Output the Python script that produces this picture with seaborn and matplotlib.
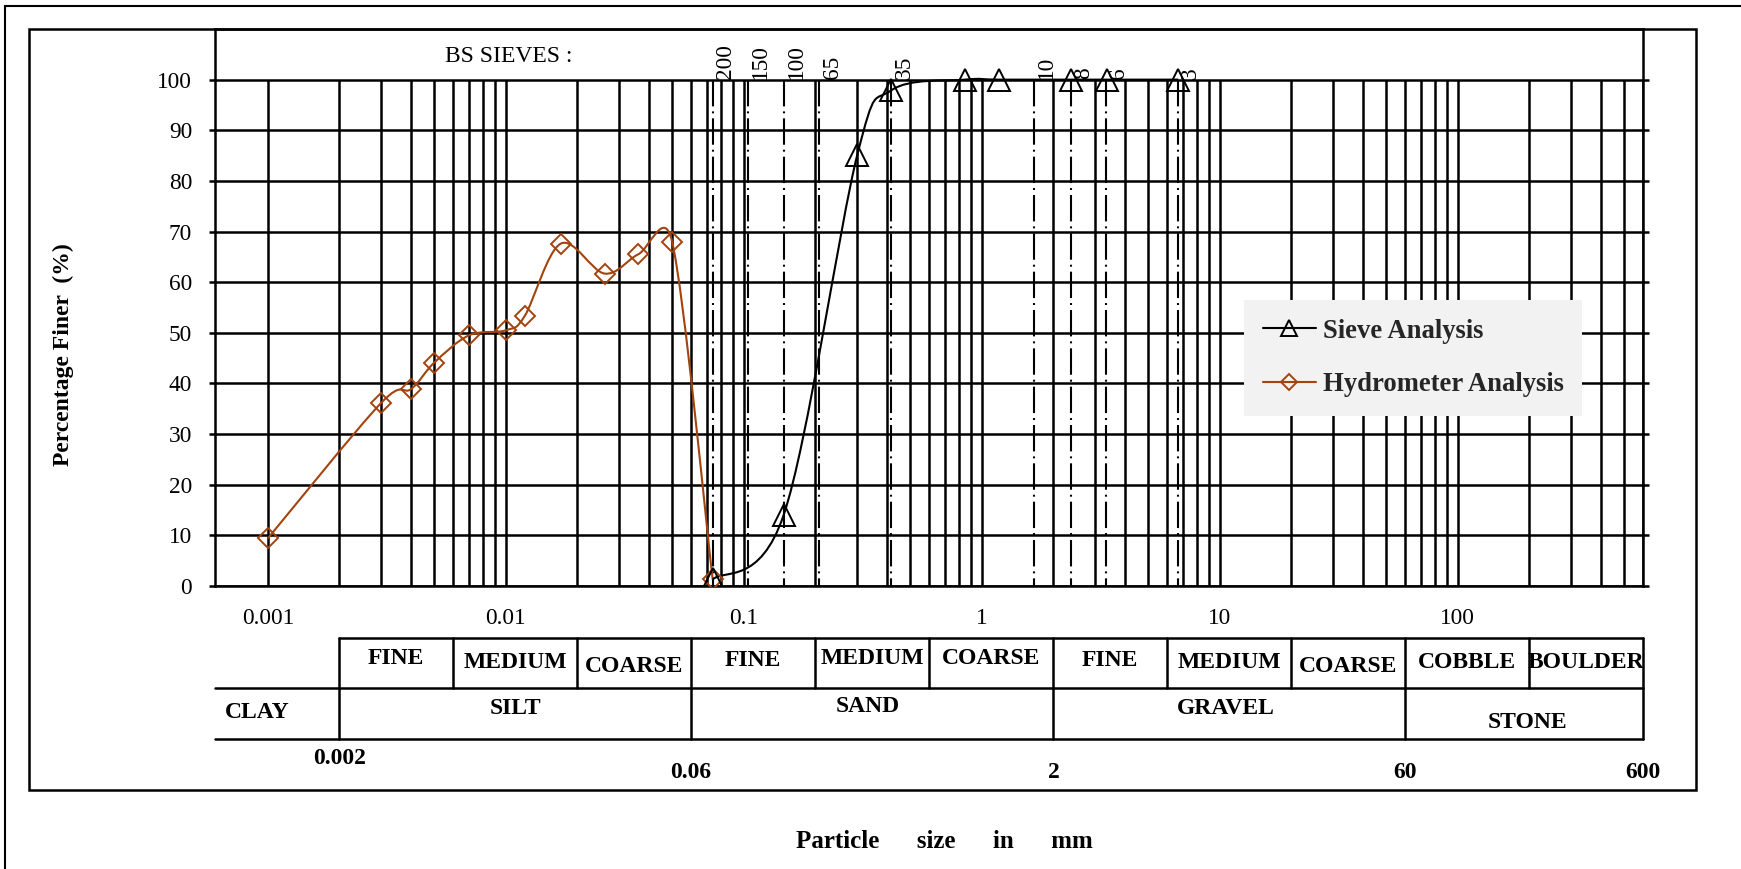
import numpy as np
import pandas as pd
import matplotlib
matplotlib.use("Agg")
import matplotlib.pyplot as plt
import matplotlib.transforms as mtransforms
from matplotlib.path import Path
from matplotlib.patches import PathPatch, Rectangle
from matplotlib.lines import Line2D
from matplotlib.ticker import NullLocator
import seaborn as sns

# ---------------- data ----------------
# Sieve analysis: particle size (mm) vs percentage finer
sieve_size_mm = [0.074, 0.147, 0.30, 0.417, 0.85, 1.18, 2.36, 3.35, 6.70]
sieve_finer = [1.3, 14.0, 85.2, 97.9, 100.0, 100.0, 100.0, 100.0, 100.0]

# Hydrometer analysis: particle size (mm) vs percentage finer
hydro_size_mm = [0.001, 0.003, 0.004, 0.005, 0.007, 0.010, 0.012,
                 0.017, 0.026, 0.036, 0.050, 0.074]
hydro_finer = [9.4, 36.2, 38.9, 44.1, 49.5, 50.5, 53.3,
               67.6, 61.7, 65.5, 68.0, 1.3]

# Sieve mesh numbers and their openings (mm)
mesh_labels = ["200", "150", "100", "65", "35", "10", "8", "6", "3"]
mesh_opening_mm = [0.074, 0.104, 0.147, 0.208, 0.417, 1.651, 2.362, 3.327, 6.680]

# Axis ticks
y_ticks = [0, 10, 20, 30, 40, 50, 60, 70, 80, 90, 100]
x_tick_values = [0.001, 0.01, 0.1, 1, 10, 100]
x_tick_labels = ["0.001", "0.01", "0.1", "1", "10", "100"]

# Soil classification bands (mm)
sub_bounds = [0.002, 0.006, 0.02, 0.06, 0.2, 0.6, 2, 6, 20, 60, 200, 600]
sub_labels = ["FINE", "MEDIUM", "COARSE", "FINE", "MEDIUM", "COARSE",
              "FINE", "MEDIUM", "COARSE", "COBBLE", "BOULDER"]
main_bounds = [0.002, 0.06, 2, 60, 600]
main_labels = ["CLAY", "SILT", "SAND", "GRAVEL", "STONE"]
boundary_labels = ["0.002", "0.06", "2", "60", "600"]

# ---------------- style ----------------
W, H = 1741, 869
sns.set_theme(style="white")
plt.rcParams["font.family"] = ["Liberation Serif", "DejaVu Serif"]
plt.rcParams["lines.scale_dashes"] = False
plt.rcParams["axes.unicode_minus"] = False

HYDRO_COLOR = "#A3430E"
GRID_LW = 1.8

AX_LEFT, AX_RIGHT, AX_TOP, AX_BOTTOM = 215, 1643, 29, 586
XMIN, XMAX = 0.0006, 600
YMIN, YMAX = 0, 110


def fx(px):
    return px / W


def fy(px):
    return 1 - px / H


fig = plt.figure(figsize=(W / 100, H / 100), dpi=100)
fig.patch.set_facecolor("white")

# outer frame (runs off the right and bottom edges) and chart frame
fig.add_artist(Rectangle((fx(5), fy(H + 10)), fx(W + 10), fy(6) - fy(H + 10),
                         transform=fig.transFigure, fill=False, lw=1.5,
                         edgecolor="black"))
fig.add_artist(Rectangle((fx(29.5), fy(790)), fx(1696 - 29.5), fy(29) - fy(790),
                         transform=fig.transFigure, fill=False, lw=1.8,
                         edgecolor="black"))

ax = fig.add_axes([fx(AX_LEFT), fy(AX_BOTTOM), fx(AX_RIGHT - AX_LEFT),
                   fy(AX_TOP) - fy(AX_BOTTOM)])
ax.set_facecolor("white")
ax.set_xscale("log")

for s in ax.spines.values():
    s.set_color("black")
    s.set_linewidth(GRID_LW)
    s.set_visible(True)

# horizontal grid
ax.set_yticks(y_ticks)
ax.yaxis.grid(True, color="black", lw=GRID_LW)
ax.xaxis.grid(False)
ax.set_axisbelow(True)
ax.tick_params(axis="y", which="major", direction="out", length=4, width=GRID_LW,
               color="black", left=True, right=True, labelleft=True,
               labelright=False, labelsize=16.8, pad=12.5, labelcolor="black")

# vertical log grid, 0.001 .. 600, drawn only up to 100 %
grid_x = [k * 10.0 ** e for e in range(-3, 3) for k in range(1, 10)]
grid_x = [g for g in grid_x if g <= 600 * 1.0001]
ax.vlines(grid_x, 0, 100, colors="black", lw=GRID_LW, zorder=1)

# BS sieve reference lines (dash-dot) and mesh labels
for d, lab in zip(mesh_opening_mm, mesh_labels):
    ax.plot([d, d], [100, 0], color="black", lw=1.5,
            linestyle=(0, (19, 3.6, 1.4, 3.6)), zorder=2)
    ax.annotate(lab, xy=(d, 100), xytext=(1.5, 0.5), textcoords="offset points",
                rotation=90, ha="left", va="bottom", fontsize=16.8, color="black")

# pixel scale of the plotting area, used to shape the smoothed curves
PX_PER_DECADE = (AX_RIGHT - AX_LEFT) / (np.log10(XMAX) - np.log10(XMIN))
PX_PER_UNIT = (AX_BOTTOM - AX_TOP) / (YMAX - YMIN)


def smooth_path(xs, ys, t=1 / 6):
    """Cubic Bezier through the points with Catmull-Rom tangents, each tangent
    handle limited to the length of its own segment (screen space)."""
    P = np.column_stack([np.log10(np.asarray(xs, float)) * PX_PER_DECADE,
                         np.asarray(ys, float) * PX_PER_UNIT])
    n = len(P)
    verts = [P[0]]
    codes = [Path.MOVETO]
    for i in range(n - 1):
        p0 = P[i - 1] if i > 0 else P[i]
        p1, p2 = P[i], P[i + 1]
        p3 = P[i + 2] if i + 2 < n else P[i + 1]
        seg = np.hypot(*(p2 - p1))
        h1 = (p2 - p0) * t
        h2 = (p3 - p1) * t
        for h in (h1, h2):
            L = np.hypot(*h)
            if L > seg:
                h *= seg / L
        verts += [p1 + h1, p2 - h2, p2]
        codes += [Path.CURVE4] * 3
    verts = np.array(verts)
    verts[:, 0] = 10 ** (verts[:, 0] / PX_PER_DECADE)
    verts[:, 1] = verts[:, 1] / PX_PER_UNIT
    return Path(verts, codes)


sieve_df = pd.DataFrame({"size": sieve_size_mm, "finer": sieve_finer})
hydro_df = pd.DataFrame({"size": hydro_size_mm, "finer": hydro_finer})

ax.add_patch(PathPatch(smooth_path(hydro_size_mm, hydro_finer), facecolor="none",
                       edgecolor=HYDRO_COLOR, lw=1.5, zorder=3))
ax.add_patch(PathPatch(smooth_path(sieve_size_mm, sieve_finer), facecolor="none",
                       edgecolor="black", lw=1.5, zorder=3))

sns.lineplot(data=hydro_df, x="size", y="finer", ax=ax, sort=False, estimator=None,
             linestyle="", marker="D", markersize=10.5, mfc="none",
             markeredgecolor=HYDRO_COLOR, markeredgewidth=1.4, color=HYDRO_COLOR,
             legend=False, zorder=4)
sns.lineplot(data=sieve_df, x="size", y="finer", ax=ax, sort=False, estimator=None,
             linestyle="", marker="^", markersize=16, mfc="none",
             markeredgecolor="black", markeredgewidth=1.4, color="black",
             legend=False, zorder=4)

# x axis
ax.set_xticks(x_tick_values, x_tick_labels)
ax.xaxis.set_minor_locator(NullLocator())
ax.tick_params(axis="x", which="both", length=0, pad=16, labelsize=16.8,
               labelcolor="black")
ax.set_xlabel("")
ax.set_ylabel("")
ax.set_xlim(XMIN, XMAX)
ax.set_ylim(YMIN, YMAX)

# legend
handles = [
    Line2D([], [], color="black", lw=1.5, marker="^", markersize=12, mfc="none",
           mec="black", mew=1.4),
    Line2D([], [], color=HYDRO_COLOR, lw=1.5, marker="D", markersize=8,
           mfc="none", mec=HYDRO_COLOR, mew=1.4),
]
leg = ax.legend(handles, ["Sieve Analysis", "Hydrometer Analysis"],
                loc="upper left", bbox_to_anchor=(fx(1244), fy(300)),
                bbox_transform=fig.transFigure, borderaxespad=0,
                prop={"weight": "bold", "size": 19.2}, frameon=True,
                fancybox=False, facecolor="#f2f2f2", edgecolor="none",
                framealpha=1, handlelength=2.0, handletextpad=0.25,
                labelspacing=1.07, borderpad=0.7)
leg.set_zorder(6)

# classification table beneath the axis
blend = mtransforms.blended_transform_factory(ax.transData, fig.transFigure)
y_top, y_mid, y_bot = fy(638), fy(688), fy(739)
TLW = 1.8
ax.plot([sub_bounds[0], sub_bounds[-1]], [y_top, y_top], transform=blend,
        color="black", lw=TLW, clip_on=False)
for yy in (y_mid, y_bot):
    ax.plot([XMIN, sub_bounds[-1]], [yy, yy], transform=blend, color="black",
            lw=TLW, clip_on=False)
for b in sub_bounds:
    ax.plot([b, b], [y_top, y_bot if b in main_bounds else y_mid],
            transform=blend, color="black", lw=TLW, clip_on=False)

sub_y = [659, 662, 666, 660, 658, 659, 661, 663, 666, 663, 662]
for i, lab in enumerate(sub_labels):
    xc = np.sqrt(sub_bounds[i] * sub_bounds[i + 1])
    ax.text(xc, fy(sub_y[i]), lab, transform=blend, ha="center", va="center",
            fontsize=17, fontweight="bold", color="black", clip_on=False)

main_x = [0.0009] + [np.sqrt(main_bounds[i] * main_bounds[i + 1]) * f
                     for i, f in zip(range(4), [1.0, 0.96, 0.97, 1.03])]
main_y = [713, 708, 707, 708, 722]
for xc, yy, lab in zip(main_x, main_y, main_labels):
    ax.text(xc, fy(yy), lab, transform=blend, ha="center", va="center",
            fontsize=17, fontweight="bold", color="black", clip_on=False)

bound_y = [758, 772, 772, 772, 772]
for b, yy, lab in zip(main_bounds, bound_y, boundary_labels):
    ax.text(b, fy(yy), lab, transform=blend, ha="center", va="center",
            fontsize=17, fontweight="bold", color="black", clip_on=False)

# titles
fig.text(fx(509), fy(56), "BS SIEVES :", ha="center", va="center",
         fontsize=17, color="black")
fig.text(fx(944), fy(841), "Particle      size      in      mm", ha="center",
         va="center", fontsize=18, fontweight="bold", color="black")
fig.text(fx(63), fy(355), "Percentage Finer  (%)", rotation=90, ha="center",
         va="center", fontsize=17, fontweight="bold", color="black")

fig.savefig("out.png", dpi=100, facecolor="white")
